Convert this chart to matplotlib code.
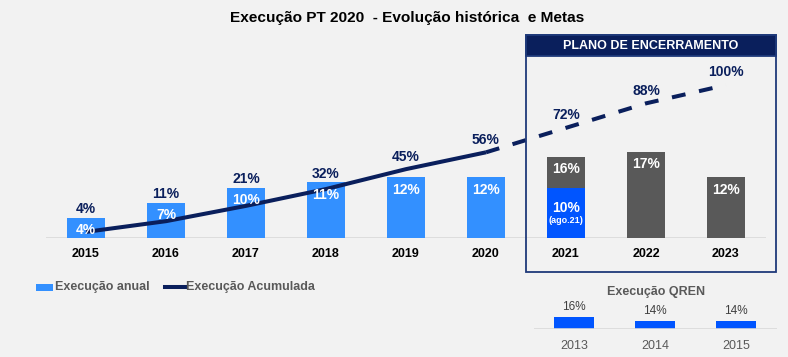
import matplotlib
matplotlib.use("Agg")
import matplotlib.pyplot as plt
from matplotlib.patches import Rectangle
import numpy as np

plt.rcParams['font.family'] = ['Liberation Sans', 'DejaVu Sans']

# ---- data ----
years = ['2015', '2016', '2017', '2018', '2019', '2020', '2021', '2022', '2023']
annual = [4, 7, 10, 11, 12, 12, None, 17, 12]          # executed annual (blue) / planned (gray)
annual_2021_exec = 10                                  # executed up to Aug 2021
annual_2021_plan = 16                                  # planned 2021
cumulative = [4, 11, 21, 32, 45, 56, 72, 88, 100]
annual_labels = ['4%', '7%', '10%', '11%', '12%', '12%', '16%', '17%', '12%']
cum_labels = ['4%', '11%', '21%', '32%', '45%', '56%', '72%', '88%', '100%']

qren_years = ['2013', '2014', '2015']
qren_values = [16, 14, 14]
qren_labels = ['16%', '14%', '14%']

BG = '#F2F2F2'
BLUE = '#3390FF'
BLUE2021 = '#0055FF'
GRAY = '#595959'
NAVY = '#0A1F5C'
QBLUE = '#0055FF'

W, H = 788, 357
fig = plt.figure(figsize=(W / 100, H / 100), dpi=100, facecolor=BG)

def fa(x0, y0, x1, y1):
    # pixel box (top-left origin) -> figure fraction rect
    return [x0 / W, 1 - y1 / H, (x1 - x0) / W, (y1 - y0) / H]

# ---- main axes ----
base_y = 238
top_y = 30
ax = fig.add_axes(fa(46, top_y, 766, base_y))
ax.set_facecolor('none')
ax.set_xlim(-0.5, 8.5)
ax.set_ylim(0, (base_y - top_y) / 5.05)
for s in ax.spines.values():
    s.set_visible(False)
ax.axhline(0, color='#D9D9D9', lw=1.2, zorder=1)
ax.set_yticks([])
x = np.arange(len(years))
ax.set_xticks(x)
ax.set_xticklabels(years, fontsize=9, fontweight='bold', color='black')
ax.tick_params(axis='x', length=0, pad=7.5)

bw = 0.475
for i, v in enumerate(annual):
    if i == 6:
        ax.bar(i, annual_2021_plan, width=bw, color=GRAY, zorder=2)
        ax.bar(i, annual_2021_exec, width=bw, color=BLUE2021, zorder=3)
    else:
        ax.bar(i, v, width=bw, color=BLUE if i < 6 else GRAY, zorder=2)

# ---- cumulative line (secondary axis) ----
ax2 = ax.twinx()
ax2.set_ylim(0, (base_y - top_y) / 1.53)
ax2.set_yticks([])
for s in ax2.spines.values():
    s.set_visible(False)
ax2.plot(x[:6], cumulative[:6], color=NAVY, lw=2.9, solid_capstyle='butt', zorder=4)
ax2.plot(x[5:], cumulative[5:], color=NAVY, lw=2.9, linestyle=(0, (3.44, 3.44)),
         dash_capstyle='butt', zorder=4)

# white labels inside bars (drawn on ax2 so they sit above the line)
tb = ax.transData
for i, v in enumerate(annual):
    if i == 6:
        ax2.annotate(annual_labels[i], (i, annual_2021_plan), xycoords=tb, xytext=(0, -8.3),
                     textcoords='offset points', ha='center', va='center',
                     color='white', fontsize=10, fontweight='bold', zorder=6)
        ax2.annotate('10%', (i, annual_2021_exec), xycoords=tb, xytext=(0, -14.5),
                     textcoords='offset points', ha='center', va='center',
                     color='white', fontsize=10, fontweight='bold', zorder=6)
        ax2.annotate('(ago.21)', (i, annual_2021_exec), xycoords=tb, xytext=(0, -24.0),
                     textcoords='offset points', ha='center', va='center',
                     color='white', fontsize=6.5, fontweight='bold', zorder=6)
    else:
        ax2.annotate(annual_labels[i], (i, v), xycoords=tb, xytext=(0, -8.8),
                     textcoords='offset points', ha='center', va='center',
                     color='white', fontsize=10, fontweight='bold', zorder=6)

fig.canvas.draw()
for i in range(len(years)):
    bar_top = annual_2021_plan if i == 6 else annual[i]
    pb = ax.transData.transform((i, bar_top))[1]
    pl = ax2.transData.transform((i, cumulative[i]))[1]
    if pb >= pl - 6:
        ax2.annotate(cum_labels[i], (i, bar_top), xycoords=tb, xytext=(0, 6.0),
                     textcoords='offset points', ha='center', va='center',
                     color=NAVY, fontsize=10, fontweight='bold', zorder=6)
    else:
        ax2.annotate(cum_labels[i], (i, cumulative[i]), xytext=(0, 9),
                     textcoords='offset points', ha='center', va='center',
                     color=NAVY, fontsize=10, fontweight='bold', zorder=6)

# ---- title ----
fig.text(407 / W, 1 - 18 / H, 'Execução PT 2020  - Evolução histórica  e Metas',
         ha='center', va='center', fontsize=11.1, fontweight='bold', color='black')

# ---- Plano de encerramento box ----
fig.patches.append(Rectangle((526 / W, 1 - 272 / H), 250 / W, 237 / H,
                             transform=fig.transFigure, fill=False,
                             edgecolor='#1F3A7A', lw=1.3, zorder=10))
fig.patches.append(Rectangle((526 / W, 1 - 56 / H), 250 / W, 21 / H,
                             transform=fig.transFigure, facecolor='#0A1F5C',
                             edgecolor='#1F3A7A', lw=1.3, zorder=10))
fig.text(651 / W, 1 - 46 / H, 'PLANO DE ENCERRAMENTO', ha='center', va='center',
         color='white', fontsize=9, fontweight='bold', zorder=11)

# ---- legend ----
fig.patches.append(Rectangle((36 / W, 1 - 290.5 / H), 17 / W, 7 / H,
                             transform=fig.transFigure, facecolor=BLUE, edgecolor='none'))
fig.text(55 / W, 1 - 287 / H, 'Execução anual', ha='left', va='center',
         color=GRAY, fontsize=9, fontweight='bold')
fig.lines.append(plt.Line2D([165 / W, 186 / W], [1 - 287 / H, 1 - 287 / H],
                            transform=fig.transFigure, color=NAVY, lw=2.9))
fig.text(186 / W, 1 - 287 / H, 'Execução Acumulada', ha='left', va='center',
         color=GRAY, fontsize=9, fontweight='bold')

# ---- QREN inset ----
qbase = 329
axq = fig.add_axes(fa(533.5, qbase - 20, 776.5, qbase))
axq.set_facecolor('none')
axq.set_xlim(-0.5, 2.5)
axq.set_ylim(10, 20)
for s in axq.spines.values():
    s.set_visible(False)
axq.axhline(10, color='#D9D9D9', lw=1.2)
axq.set_yticks([])
qx = np.arange(len(qren_years))
axq.bar(qx, np.array(qren_values) - 10, bottom=10, width=0.49, color=QBLUE)
axq.set_xticks(qx)
axq.set_xticklabels(qren_years, fontsize=9, color=GRAY)
axq.tick_params(axis='x', length=0, pad=8)
for i, v in enumerate(qren_values):
    axq.annotate(qren_labels[i], (i, v), xytext=(0, 7.5), textcoords='offset points',
                 ha='center', va='center', fontsize=8.5, color='#404040')
fig.text(656 / W, 1 - 292 / H, 'Execução QREN', ha='center', va='center',
         color=GRAY, fontsize=9, fontweight='bold')

fig.savefig('out.png', dpi=100, facecolor=BG)
